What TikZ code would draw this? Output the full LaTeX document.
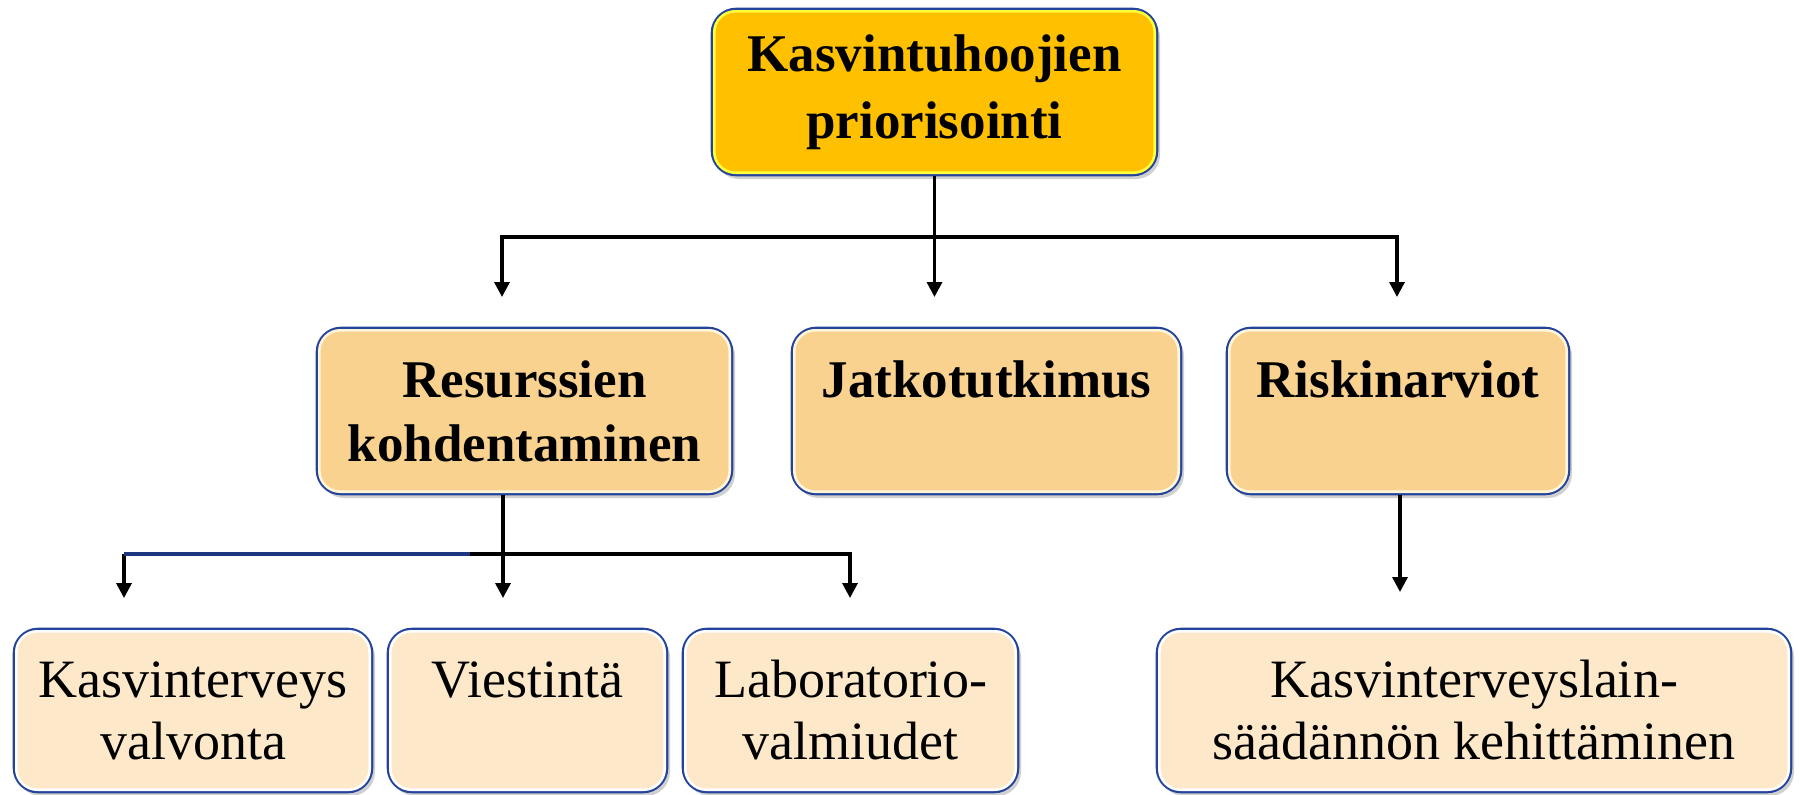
\documentclass[tikz,border=0pt]{standalone}
\usepackage{fontspec}
\setmainfont{Liberation Serif}
\usetikzlibrary{arrows.meta,shadows}
\definecolor{navy}{HTML}{24449C}
\definecolor{gold}{HTML}{FFC000}
\definecolor{hlyellow}{HTML}{FFFF3A}
\definecolor{peach}{HTML}{FAD290}
\definecolor{cream}{HTML}{FDE8C9}
\definecolor{hlcream}{HTML}{FFF6DA}
\tikzset{
  boxbase/.style={rounded corners=24pt, draw=navy, line width=2.6pt, align=center, inner sep=0pt,
    text=black, drop shadow={shadow xshift=3pt, shadow yshift=-4pt, opacity=0.3, fill=black!60}},
  topbox/.style={boxbase, fill=gold, minimum width=445pt, minimum height=166pt,
    font=\bfseries\fontsize{53}{67}\selectfont},
  midbox/.style={boxbase, fill=peach, minimum height=166pt,
    font=\bfseries\fontsize{53}{64}\selectfont},
  lowbox/.style={boxbase, fill=cream, minimum height=163pt,
    font=\fontsize{54}{62}\selectfont},
  hl/.style={rounded corners=21pt, line width=2.6pt},
  conn/.style={line width=3.4pt, draw=black},
  arr/.style={conn, -{Triangle[width=15pt,length=15pt]}},
  arr2/.style={conn, {Triangle[width=15pt,length=15pt]}-{Triangle[width=15pt,length=15pt]}},
}
\newcommand{\highlight}[2]{\draw[hl,#2] ([shift={(3.6,3.6)}]#1.north west) rectangle ([shift={(-3.6,-3.6)}]#1.south east);}
\begin{document}
\begin{tikzpicture}[x=1pt,y=-1pt]
\useasboundingbox[fill=white] (0,0) rectangle (1800,795);
% nodes
\node[topbox] (top) at (934.5,92) {Kasvintuhoojien\\priorisointi};
\highlight{top}{hlyellow}
\node[midbox, minimum width=415pt] (res) at (524.5,411) {Resurssien\\kohdentaminen};
\highlight{res}{hlcream}
\node[midbox, minimum width=389pt] (jat) at (986.5,411) {Jatkotutkimus\\\mbox{}};
\highlight{jat}{hlcream}
\node[midbox, minimum width=342pt] (risk) at (1398,411) {Riskinarviot\\\mbox{}};
\highlight{risk}{hlcream}
\node[lowbox, minimum width=358pt] (kas) at (193,710.5) {Kasvinterveys\\valvonta};
\highlight{kas}{white}
\node[lowbox, minimum width=279pt] (vie) at (527.5,710.5) {Viestintä\\\mbox{}};
\highlight{vie}{white}
\node[lowbox, minimum width=335pt] (lab) at (850.5,710.5) {Laboratorio-\\valmiudet};
\highlight{lab}{white}
\node[lowbox, minimum width=634pt] (law) at (1474,710.5) {Kasvinterveyslain-\\säädännön kehittäminen};
\highlight{law}{white}
% connector end points
\coordinate (busA) at (0,237);
\coordinate (a1) at (502,297);
\coordinate (a2) at (934.5,297);
\coordinate (a3) at (1397,297);
\coordinate (busB) at (0,554);
\coordinate (b0) at (503,0);
\coordinate (b1) at (124,598);
\coordinate (b2) at (503,598);
\coordinate (b3) at (850,598);
\coordinate (c1) at (1400,592);
% level 1 -> 2
\draw[arr] (top.south) -- (a2);
\draw[arr2] (a1) -- (a1 |- busA) -- (a3 |- busA) -- (a3);
% level 2 -> 3
\draw[arr] (b0 |- res.south) -- (b2);
\draw[arr] (b1 |- busB) -- (b1);
\draw[conn, draw=navy!80!black] (b1 |- busB) -- (470,554);
\draw[arr] (470,554) -- (b3 |- busB) -- (b3);
\draw[arr] (c1 |- risk.south) -- (c1);
\end{tikzpicture}
\end{document}
